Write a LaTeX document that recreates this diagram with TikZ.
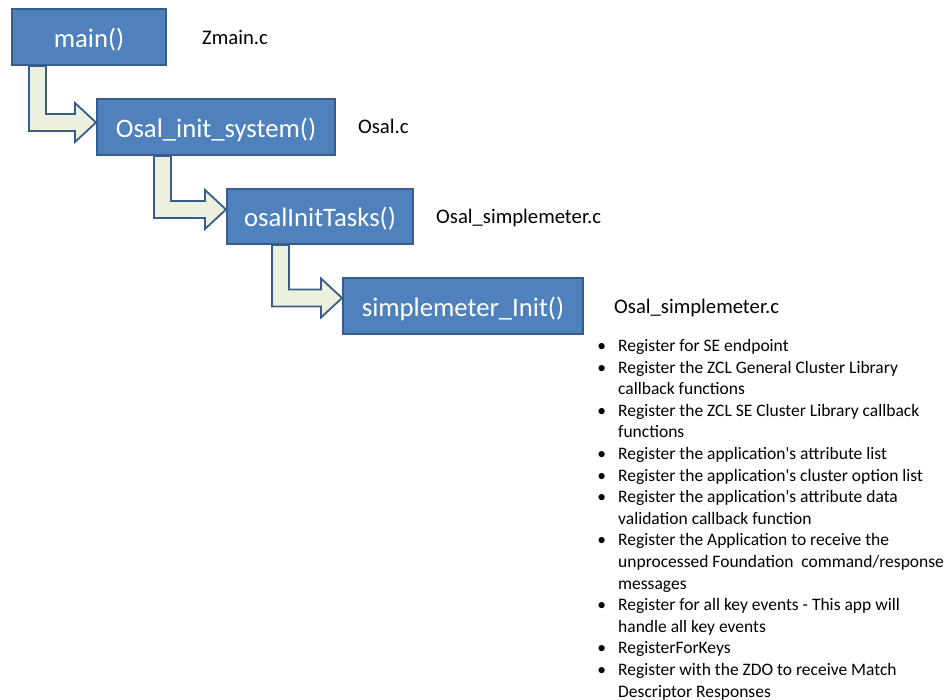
\documentclass[tikz,border=0pt]{standalone}
\usepackage{fontspec}
\setmainfont{Carlito}
\usetikzlibrary{calc,backgrounds}
\definecolor{boxfill}{HTML}{4F81BD}
\definecolor{boxline}{HTML}{385D8A}
\definecolor{arrfill}{HTML}{EBF0DF}
\tikzset{
 fnbox/.style={draw=boxline, fill=boxfill, line width=2pt, text=white, font=\fontsize{26.7}{32}\selectfont, inner sep=0pt, minimum height=56pt},
 filelabel/.style={anchor=base west, inner sep=0pt, font=\fontsize{20.7}{25}\selectfont},
 listline/.style={anchor=base west, inner sep=0pt, font=\fontsize{17.5}{21}\selectfont},
 bentarrow/.style={draw=boxline, fill=arrfill, line width=1.8pt, line join=miter},
}
\newcommand\bulletmark{\llap{\textbullet\hspace{12pt}}}
\newcommand\apo{\textquotesingle}
\newcommand\lowered[1]{\raisebox{-10.5pt}[0pt][0pt]{#1}}
\newcommand\drawbent[4]{%
 \draw[bentarrow] let \p1=(#1.south west), \p2=(#2.west) in
 (\x1+#3, \y1) -- (\x1+#3+17pt, \y1) -- (\x1+#3+17pt, \y2+#4+8.5pt) -- (\x2-21pt, \y2+#4+8.5pt) -- (\x2-21pt,\y2+#4+19.5pt) -- (\x2, \y2+#4) -- (\x2-21pt, \y2+#4-19.5pt) -- (\x2-21pt, \y2+#4-8.5pt) -- (\x1+#3, \y2+#4-8.5pt) -- cycle;}
\begin{document}
\begin{tikzpicture}[x=1pt,y=-1pt]
\useasboundingbox (0,0) rectangle (946,700);
\node[fnbox, minimum width=154pt] (main) at (89,37) {\lowered{main()}};
\node[fnbox, minimum width=238pt] (osal) at (216,127) {\lowered{Osal\_init\_system()}};
\node[fnbox, minimum width=186pt, minimum height=55pt] (tasks) at (320,216.5) {\lowered{osalInitTasks()}};
\node[fnbox, minimum width=240pt] (sinit) at (463,306) {\lowered{simplemeter\_Init()}};
\begin{scope}[on background layer]
\drawbent{main}{osal}{18pt}{4.5pt}
\drawbent{osal}{tasks}{58pt}{7pt}
\drawbent{tasks}{sinit}{46pt}{8pt}
\end{scope}
\node[filelabel] (f1) at (202,45) {Zmain.c};
\node[filelabel] (f2) at (358,134) {Osal.c};
\node[filelabel] (f3) at (436,224) {Osal\_simplemeter.c};
\node[filelabel] (f4) at (614,314) {Osal\_simplemeter.c};
\foreach \txt [count=\k from 0] in {
 \bulletmark Register for SE endpoint,
 \bulletmark Register the ZCL General Cluster Library,
 callback functions,
 \bulletmark Register the ZCL SE Cluster Library callback,
 functions,
 \bulletmark Register the application\apo s attribute list,
 \bulletmark Register the application\apo s cluster option list,
 \bulletmark Register the application\apo s attribute data,
 validation callback function,
 \bulletmark Register the Application to receive the,
 unprocessed Foundation\hspace{4pt} command/response,
 messages,
 \bulletmark Register for all key events - This app will,
 handle all key events,
 \bulletmark RegisterForKeys,
 \bulletmark Register with the ZDO to receive Match,
 Descriptor Responses}
 \node[listline] (l\k) at (618,351.5+21.6*\k) {\txt};
\end{tikzpicture}
\end{document}
